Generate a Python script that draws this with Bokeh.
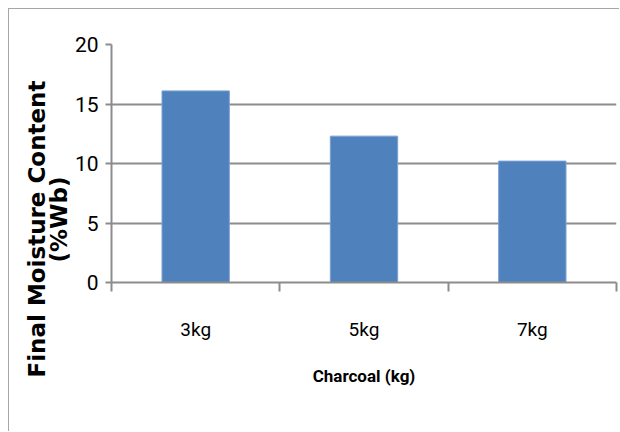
from bokeh.plotting import figure
from bokeh.models import FixedTicker, Range1d, Title, ColumnDataSource
from bokeh.embed import file_html
from bokeh.resources import INLINE

categories = ["3kg", "5kg", "7kg"]
moisture = [16.1, 12.3, 10.2]
y_ticks = [0, 5, 10, 15, 20]
y_title_1 = "Final Moisture Content"
y_title_2 = "(%Wb)"
x_title = "Charcoal (kg)"

FONT = "Roboto"

xs = [i + 0.5 for i in range(len(categories))]
src = ColumnDataSource(dict(x=xs, top=moisture))

p = figure(width=611, height=423, output_backend="svg", toolbar_location=None,
           x_range=Range1d(0, len(categories)), y_range=Range1d(0, 20),
           min_border_left=102, min_border_right=4, min_border_top=35, min_border_bottom=150,
           styles={"margin-left": "8px", "margin-top": "8px",
                   "border-top": "1px solid #a6a6a6", "border-left": "1px solid #a6a6a6"})
p.outline_line_color = None
p.background_fill_color = "white"
p.border_fill_color = "white"

p.vbar(x="x", top="top", width=0.4, bottom=0, source=src,
       fill_color="#4f81bd", line_color="#7aa1d2", line_width=1)

# y axis
p.yaxis.ticker = FixedTicker(ticks=y_ticks)
p.yaxis.axis_line_color = "#8c8c8c"
p.yaxis.axis_line_width = 2
p.yaxis.major_tick_line_color = "#8c8c8c"
p.yaxis.major_tick_line_width = 2
p.yaxis.major_tick_out = 6
p.yaxis.major_tick_in = 0
p.yaxis.minor_tick_line_color = None
p.yaxis.major_label_text_font = FONT
p.yaxis.major_label_text_font_size = "21px"
p.yaxis.major_label_text_color = "#000000"
p.yaxis.major_label_standoff = 7

# x axis
p.xaxis.ticker = FixedTicker(ticks=xs, minor_ticks=list(range(len(categories) + 1)))
p.xaxis.major_label_overrides = {x: c for x, c in zip(xs, categories)}
p.xaxis.axis_line_color = "#8c8c8c"
p.xaxis.axis_line_width = 2
p.xaxis.major_tick_line_color = None
p.xaxis.minor_tick_line_color = "#8c8c8c"
p.xaxis.minor_tick_line_width = 2
p.xaxis.minor_tick_out = 9
p.xaxis.minor_tick_in = 0
p.xaxis.major_label_text_font = FONT
p.xaxis.major_label_text_font_size = "19px"
p.xaxis.major_label_text_color = "#000000"
p.xaxis.major_label_standoff = 26
p.xaxis.axis_label = x_title
p.xaxis.axis_label_text_font = FONT
p.xaxis.axis_label_text_font_size = "17px"
p.xaxis.axis_label_text_font_style = "bold"
p.xaxis.axis_label_text_color = "#000000"
p.xaxis.axis_label_standoff = 22

p.xgrid.grid_line_color = None
p.ygrid.ticker = FixedTicker(ticks=y_ticks)
p.ygrid.grid_line_color = "#8c8c8c"
p.ygrid.grid_line_width = 2

common = dict(align="left", text_font="DejaVu Sans", text_font_style="bold",
              text_font_size="23px", text_color="#000000", text_line_height=0.8)
p.add_layout(Title(text=y_title_2, offset=20, standoff=0, **common), "left")
p.add_layout(Title(text=y_title_1, offset=-95, standoff=-13, **common), "left")

open("out.html", "w").write(file_html(p, INLINE))
